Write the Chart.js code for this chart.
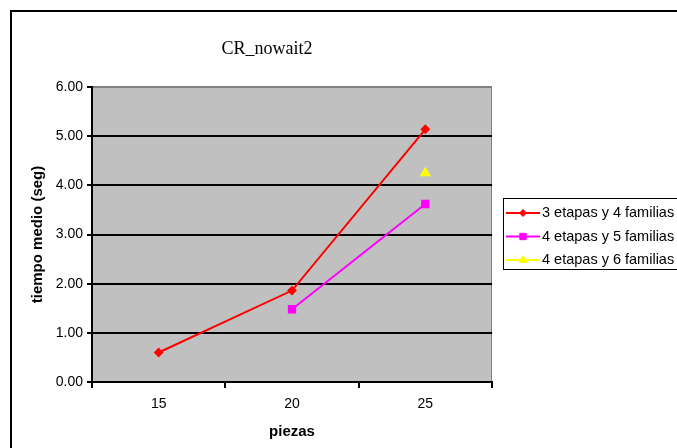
<!DOCTYPE html>
<html>
<head>
<meta charset="utf-8">
<script src="https://cdn.jsdelivr.net/npm/chart.js@4/dist/chart.umd.min.js"></script>
<style>
  html, body { margin: 0; padding: 0; background: #fff; overflow: hidden; }
  #wrap { width: 677px; height: 448px; }
</style>
</head>
<body>
<div id="wrap"><canvas id="chart"></canvas></div>
<script>
// datos
const piezas = ['15', '20', '25'];
const serie1 = [0.60, 1.86, 5.14];   // 3 etapas y 4 familias
const serie2 = [null, 1.48, 3.62];   // 4 etapas y 5 familias
const serie3 = [null, null, 4.25];   // 4 etapas y 6 familias
const nombres = ['3 etapas y 4 familias', '4 etapas y 5 familias', '4 etapas y 6 familias'];
const yTicks = [0, 1, 2, 3, 4, 5, 6];
const titulo = 'CR_nowait2';

// fondo gris del area, marco exterior, titulo y leyenda
const excelLook = {
  id: 'excelLook',
  beforeDraw(chart) {
    const { ctx, chartArea: a } = chart;
    ctx.save();
    ctx.fillStyle = '#fff';
    ctx.fillRect(0, 0, chart.width, chart.height);
    ctx.strokeStyle = '#000';
    ctx.lineWidth = 2;
    ctx.strokeRect(11, 11, chart.width + 20, chart.height + 20);
    ctx.fillStyle = '#c0c0c0';
    ctx.fillRect(a.left, a.top, a.right - a.left, a.bottom - a.top);
    ctx.strokeStyle = '#808080';
    ctx.lineWidth = 1;
    ctx.strokeRect(a.left + 0.5, a.top + 0.5, a.right - a.left - 1, a.bottom - a.top - 1);
    ctx.fillStyle = '#000';
    ctx.font = '18px "Liberation Serif", serif';
    ctx.textAlign = 'center';
    ctx.textBaseline = 'middle';
    ctx.fillText(titulo, 267, 49);
    ctx.restore();
  },
  afterDraw(chart) {
    const ctx = chart.ctx;
    const x = 503, y = 198, rowH = 23.5;
    ctx.save();
    ctx.fillStyle = '#fff';
    ctx.fillRect(x, y, 200, 72);
    ctx.strokeStyle = '#000';
    ctx.lineWidth = 1;
    ctx.strokeRect(x + 0.5, y + 0.5, 200, 71);
    ctx.font = '14.5px "Liberation Sans", Arial, sans-serif';
    ctx.textBaseline = 'middle';
    chart.data.datasets.forEach((ds, i) => {
      const cy = y + 15 + i * rowH;
      ctx.strokeStyle = ds.borderColor;
      ctx.lineWidth = 2;
      ctx.beginPath();
      ctx.moveTo(x + 3, cy);
      ctx.lineTo(x + 37, cy);
      ctx.stroke();
      ctx.fillStyle = ds.pointBackgroundColor;
      ctx.strokeStyle = ds.pointBorderColor;
      ctx.lineWidth = 1;
      Chart.helpers.drawPoint(ctx, {
        pointStyle: ds.pointStyle, radius: ds.pointRadius, borderWidth: 1, rotation: 0
      }, x + 20, cy);
      ctx.fillStyle = '#000';
      ctx.fillText(ds.label, x + 39, cy);
    });
    ctx.restore();
  }
};

const tickFont = { family: '"Liberation Sans", Arial, sans-serif', size: 14 };
const titleFont = { family: '"Liberation Sans", Arial, sans-serif', size: 15, weight: 'bold' };

new Chart(document.getElementById('chart'), {
  type: 'line',
  data: {
    labels: piezas,
    datasets: [
      {
        label: nombres[0], data: serie1,
        borderColor: '#ff0000', backgroundColor: '#ff0000', borderWidth: 2,
        pointStyle: 'rectRot', pointRadius: 3.5,
        pointBackgroundColor: '#ff0000', pointBorderColor: '#ff0000'
      },
      {
        label: nombres[1], data: serie2,
        borderColor: '#ff00ff', backgroundColor: '#ff00ff', borderWidth: 2,
        pointStyle: 'rect', pointRadius: 4.5,
        pointBackgroundColor: '#ff00ff', pointBorderColor: '#ff00ff'
      },
      {
        label: nombres[2], data: serie3,
        borderColor: '#ffff00', backgroundColor: '#ffff00', borderWidth: 2,
        pointStyle: 'triangle', pointRadius: 4.5,
        pointBackgroundColor: '#ffff00', pointBorderColor: '#ffff00'
      }
    ]
  },
  options: {
    responsive: true,
    maintainAspectRatio: false,
    animation: false,
    layout: { padding: { left: 22, top: 87, right: 185, bottom: 0 } },
    plugins: {
      legend: { display: false },
      tooltip: { enabled: false },
      title: { display: false }
    },
    scales: {
      x: {
        offset: true,
        grid: { offset: true, drawOnChartArea: false, drawTicks: true, tickLength: 6, color: '#000', lineWidth: 2 },
        border: { color: '#000', width: 2 },
        ticks: { color: '#000', font: tickFont, padding: 8, maxRotation: 0 },
        title: { display: true, text: 'piezas', color: '#000', font: titleFont, padding: { top: 0, bottom: 7 } },
        afterFit(s) { s.height = 66; }
      },
      y: {
        min: 0, max: 6,
        afterBuildTicks(s) { s.ticks = yTicks.map(v => ({ value: v })); },
        grid: {
          color: c => (c.tick && c.tick.value === 6 ? '#808080' : '#000'),
          tickColor: '#000', lineWidth: 2, tickLength: 5
        },
        border: { color: '#000', width: 2 },
        ticks: { color: '#000', font: tickFont, padding: 4, callback: v => Number(v).toFixed(2) },
        title: { display: true, text: 'tiempo medio (seg)', color: '#000', font: titleFont, padding: { top: 7, bottom: 0 } },
        afterFit(s) { s.width = 70; }
      }
    }
  },
  plugins: [excelLook]
});
</script>
</body>
</html>
